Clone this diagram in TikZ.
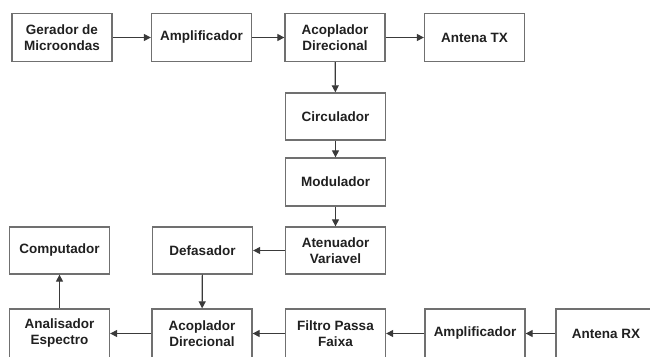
\documentclass[tikz,border=0pt]{standalone}
\usepackage{fontspec}
\setmainfont{Liberation Sans}
\usetikzlibrary{arrows.meta}
\definecolor{boxline}{HTML}{707070}
\definecolor{arrline}{HTML}{3A3A3A}
\definecolor{txt}{HTML}{202020}
\begin{document}
\begin{tikzpicture}[x=1pt,y=-1pt,
  blk/.style={draw=boxline,line width=1.3pt,minimum width=100pt,minimum height=48pt,inner sep=0pt,align=center,
    font=\fontsize{13.5}{16}\selectfont\bfseries,text=txt},
  conn/.style={draw=arrline,line width=1.2pt,-{Triangle[length=7pt,width=7pt]}}]
\useasboundingbox (0,0) rectangle (650,356);
\node[blk] (gen) at (62,37.5) {Gerador de\\Microondas};
\node[blk] (amp1) at (201.5,37.5) {Amplificador};
\node[blk] (ac1) at (335,37.5) {Acoplador\\Direcional};
\node[blk] (atx) at (474.5,37.5) {Antena TX};
\node[blk,minimum height=47pt] (circ) at (335.5,116.5) {Circulador};
\node[blk] (mod) at (335.5,182) {Modulador};
\node[blk,minimum height=47pt] (aten) at (335.5,250.5) {Atenuador\\Variavel};
\node[blk,minimum height=47pt] (comp) at (59.5,250.5) {Computador};
\node[blk,minimum height=47pt] (def) at (202.5,250.5) {Defasador};
\node[blk,minimum height=49pt] (anal) at (59.5,333.5) {Analisador\\Espectro};
\node[blk,minimum height=49pt] (ac2) at (202,333.5) {Acoplador\\Direcional};
\node[blk,minimum height=49pt] (filt) at (335.5,333.5) {Filtro Passa\\Faixa};
\node[blk,minimum height=49pt] (amp2) at (475,333.5) {Amplificador};
\node[blk,minimum height=49pt] (arx) at (606,333.5) {Antena RX};
\draw[conn] (gen) -- (amp1);
\draw[conn] (amp1) -- (ac1);
\draw[conn] (ac1) -- (atx);
\draw[conn] (ac1) -- (circ);
\draw[conn] (circ) -- (mod);
\draw[conn] (mod) -- (aten);
\draw[conn] (aten) -- (def);
\draw[conn] (def) -- (ac2);
\draw[conn] (ac2) -- (anal);
\draw[conn] (anal) -- (comp);
\draw[conn] (filt) -- (ac2);
\draw[conn] (amp2) -- (filt);
\draw[conn] (arx) -- (amp2);
\end{tikzpicture}
\end{document}
